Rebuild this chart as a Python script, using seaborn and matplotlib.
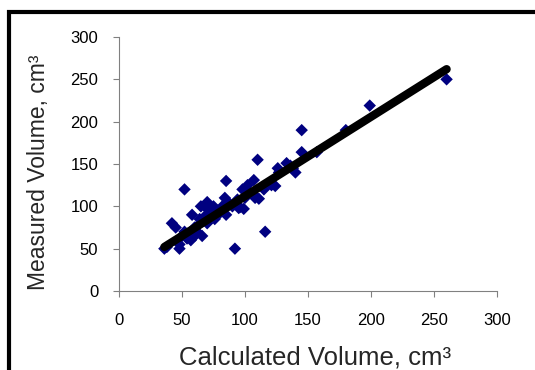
import matplotlib
matplotlib.use("Agg")
import matplotlib.pyplot as plt
import seaborn as sns
import pandas as pd
from matplotlib.patches import Rectangle

calc_volume = [36, 38, 42, 45, 48, 48, 52, 50, 52, 54, 55, 57, 58, 60, 60, 62,
               63, 64, 65, 66, 68, 68, 70, 70, 72, 74, 75, 76, 78, 80, 85, 82,
               84, 85, 86, 92, 88, 90, 96, 94, 95, 99, 98, 102, 100, 107, 110,
               106, 108, 111, 116, 115, 121, 124, 126, 127, 133, 136, 140, 138,
               145, 145, 157, 180, 199, 260]
meas_volume = [50, 52, 80, 75, 50, 55, 120, 65, 70, 62, 68, 60, 90, 75, 65, 70,
               78, 85, 100, 65, 100, 88, 105, 80, 95, 90, 100, 85, 95, 92, 130, 100,
               110, 90, 105, 50, 103, 100, 99, 108, 98, 97, 120, 125, 110, 131, 155,
               115, 110, 109, 70, 120, 125, 124, 145, 140, 151, 148, 140, 145,
               190, 164, 164, 190, 219, 250]

# linear trend line (end points)
trend_x = [36, 260]
trend_y = [52, 262]

x_ticks = [0, 50, 100, 150, 200, 250, 300]
y_ticks = [0, 50, 100, 150, 200, 250, 300]

df = pd.DataFrame({"calc": calc_volume, "meas": meas_volume})
trend = pd.DataFrame({"x": trend_x, "y": trend_y})

sns.set_theme(style="white")
plt.rcParams['font.family'] = ['Liberation Sans', 'DejaVu Sans']

fig = plt.figure(figsize=(5.35, 3.70), dpi=100)
ax = fig.add_axes([119/535, 79/370, (497-119)/535, (291-37)/370])

sns.scatterplot(data=df, x="calc", y="meas", ax=ax, marker="D", s=40,
                color="#000080", edgecolor="none", linewidth=0, zorder=2)
sns.lineplot(data=trend, x="x", y="y", ax=ax, color="black", lw=6,
             solid_capstyle="round", zorder=3)

ax.set_xlim(0, 300)
ax.set_ylim(0, 300)
ax.set_xticks(x_ticks)
ax.set_yticks(y_ticks)
ax.set_xlabel("Calculated Volume, cm³", fontsize=18.5, va="baseline")
ax.set_ylabel("Measured Volume, cm³", fontsize=16.5, va="bottom")
ax.xaxis.set_label_coords((315 - 119) / 378, (291 - 365) / 254)
ax.yaxis.set_label_coords((50 - 119) / 378, (291 - 172) / 254)
ax.tick_params(axis="both", labelsize=12, length=4, width=0.8, color="#808080",
               direction="out", bottom=True, left=True, labelcolor="black")
ax.tick_params(axis="x", pad=12)
ax.tick_params(axis="y", pad=11)
for side in ["top", "right"]:
    ax.spines[side].set_visible(False)
for side in ["left", "bottom"]:
    ax.spines[side].set_color("#808080")
    ax.spines[side].set_linewidth(0.8)

fig.patches.append(Rectangle((8.5/535, -0.2), 2.0, 1 - 11.5/370 + 0.2,
                             transform=fig.transFigure, fill=False,
                             edgecolor="black", lw=3, zorder=10))

fig.savefig("out.png", dpi=100)
